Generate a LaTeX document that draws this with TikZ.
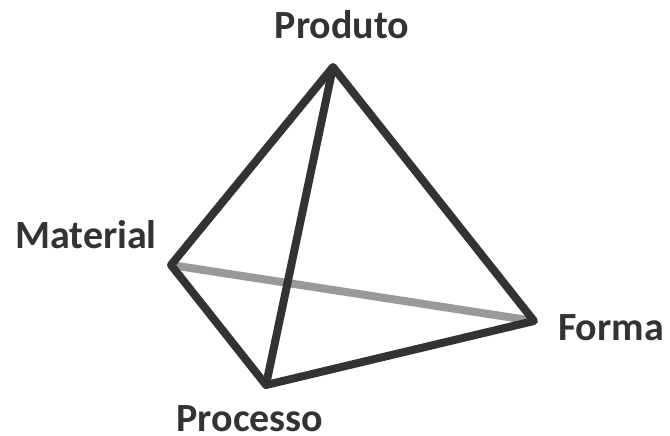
\documentclass[tikz,border=0pt]{standalone}
\usepackage{fontspec}
\setmainfont{Carlito}
\definecolor{edgedark}{HTML}{333333}
\definecolor{edgegray}{HTML}{999999}
\begin{document}
\begin{tikzpicture}[x=1pt,y=-1pt,
  edge/.style={draw=edgedark,line width=8pt,line join=round},
  hidden/.style={draw=edgegray,line width=8pt},
  lbl/.style={font=\fontsize{40}{44}\selectfont\bfseries,text=edgedark,inner sep=0pt,anchor=base,text depth=0pt}]
\useasboundingbox (0,0) rectangle (670,436);
\coordinate (T) at (333,67);
\coordinate (L) at (171,265);
\coordinate (B) at (266,385);
\coordinate (R) at (534,321);
\draw[hidden] (L) -- (R);
\draw[edge] (T) -- (L) -- (B) -- (R) -- cycle;
\draw[edge] (T) -- (B);
\node[lbl] (produto) at (342,39) {Produto};
\node[lbl] (material) at (86,248) {Material};
\node[lbl] (processo) at (250,431) {Processo};
\node[lbl] (forma) at (611,340) {Forma};
\end{tikzpicture}
\end{document}
